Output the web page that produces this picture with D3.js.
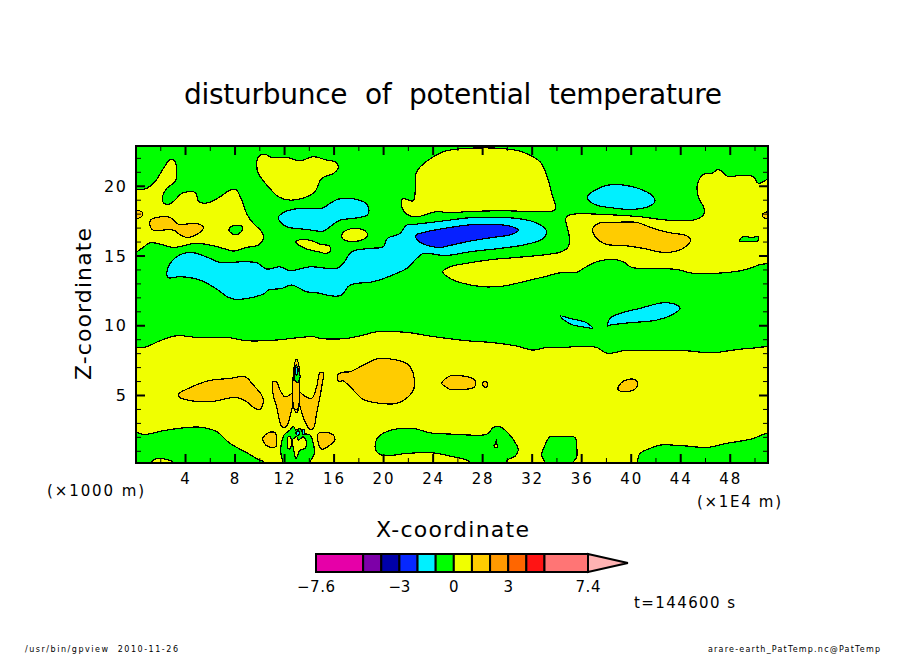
<!DOCTYPE html>
<html>
<head>
<meta charset="utf-8">
<script src="https://cdn.jsdelivr.net/npm/d3@7"></script>
<style>
    html, body { margin: 0; padding: 0; background: #fff; }
    text { font-family: "DejaVu Sans", sans-serif; fill: #000; }
</style>
</head>
<body>
<svg id="chart" width="904" height="654"></svg>
<script>
// Axis ticks
var xMajor = [4, 8, 12, 16, 20, 24, 28, 32, 36, 40, 44, 48];
var xMinor = [2, 6, 10, 14, 18, 22, 26, 30, 34, 38, 42, 46, 50];
var zMajor = [5, 10, 15, 20];
var zMinor = [1, 2, 3, 4, 6, 7, 8, 9, 11, 12, 13, 14, 16, 17, 18, 19, 21, 22];

// Colour legend
var legendLevels = [-7.6, -5, -4, -3, -2, -1, 0, 1, 2, 3, 4, 5, 7.4];
var legendColors = ["#e600a8", "#7d00a8", "#0000a8", "#0628ff", "#00f0ff", "#00ff00", "#f0ff00", "#ffcc00", "#ff9900", "#ff6600", "#ff1414", "#ff7575"];
var legendTicks = [-7.6, -3, 0, 3, 7.4];
var legendOver = 9.6;
var overColor = "#ffb3b3";

// Fill colours by contour band
var green = "#00ff00", yellow = "#f0ff00", gold = "#ffcc00", cyan = "#00f0ff", blue = "#0620ff";

// Contours, as [x (x1E4 m), z (x1000 m)]
var yellowBand = [[-0.5,8.17],[0.9,8.46],[1.98,8.89],[3.33,9.25],[4.94,9.13],[7.36,9.13],[8.98,8.89],[11.4,8.94],[13.02,9.1],[14.36,9.18],[14.9,9.06],[17.06,9.06],[18.4,9.3],[19.48,9.53],[21.9,9.49],[23.79,9.22],[25.4,9.03],[26.75,8.89],[28.9,8.75],[30.79,8.51],[32.13,8.22],[33.21,8.41],[34.56,8.41],[35.9,8.48],[37.25,8.41],[37.92,8.05],[38.33,7.98],[39.4,8.17],[42.1,8.17],[44.52,8.17],[45.87,8.05],[46.94,8.05],[48.29,8.22],[49.64,8.34],[51.6,8.22],[51.6,-1],[-0.5,-1]];
var yellowUpperLeft = [[-0.5,19.5],[0.9,19.81],[1.58,20.29],[2.25,21.24],[2.84,21.91],[3.19,21.72],[3.33,20.65],[3.19,20.29],[2.52,19.81],[2.17,19.21],[2.25,18.78],[2.73,18.69],[3.19,18.97],[3.73,19.45],[4.81,19.52],[5.13,18.85],[5.88,18.78],[6.83,19.21],[7.63,19.69],[8.09,19.74],[8.58,18.97],[9.03,17.9],[9.52,17.3],[10.19,16.7],[10.33,16.22],[9.92,15.75],[8.98,15.58],[7.9,15.32],[7.09,15.51],[6.02,15.75],[4.81,15.87],[3.06,15.58],[1.98,15.82],[1.17,15.91],[0.5,15.51],[-0.5,15.03]];
var greenHoleLeft = [[7.55,16.87],[7.9,17.13],[8.58,17.11],[8.66,16.87],[8.23,16.51],[7.77,16.58]];
var goldUpperLeft = [[1.23,17.54],[2.11,17.78],[2.79,17.73],[3.46,17.25],[4.94,17.3],[5.48,17.01],[5.08,16.58],[4.13,16.3],[3.59,16.49],[3.06,16.82],[1.44,16.82],[1.23,17.01]];
var goldEdgeLeft = [[-0.5,18.21],[0.5,18.14],[0.58,17.9],[0.23,17.66],[-0.5,17.59]];
var yellowTopBlob = [[9.79,21.48],[9.92,22.08],[10.46,22.25],[11,22.03],[12.21,22.03],[13.29,21.79],[14.36,22.08],[15.44,21.84],[16.11,21.72],[16.38,21.31],[15.98,20.88],[15.04,20.53],[14.5,19.57],[13.69,19.16],[12.48,18.97],[11.54,19.21],[10.73,19.93],[9.92,20.88]];
var cyanUpper = [[11.54,17.73],[12.08,18.14],[13.29,18.38],[15.04,18.38],[15.71,18.73],[16.38,19.04],[17.87,19.02],[18.67,18.69],[18.86,18.26],[18.73,17.9],[17.6,17.66],[16.52,17.54],[15.71,17.06],[15.17,16.75],[13.83,16.87],[12.21,17.06],[11.67,17.42]];
var yellowOval = [[16.65,16.46],[17.06,16.82],[17.87,16.94],[18.54,16.77],[18.75,16.46],[18.4,16.15],[17.46,16.01],[16.79,16.15]];
var yellowSliver = [[12.94,15.99],[13.56,16.15],[14.23,16.06],[14.9,15.82],[15.66,15.68],[15.77,15.39],[15.44,15.15],[14.77,15.27],[13.69,15.51]];
var cyanBand = [[2.52,13.72],[2.79,14.43],[3.73,15.1],[4.67,15.2],[6.02,14.79],[6.83,14.5],[8.71,14.55],[9.79,14.48],[10.6,14.03],[11.67,14.19],[12.48,13.91],[14.1,14.19],[16.25,14.07],[16.79,14.43],[17.46,15.27],[18.94,15.51],[20.02,15.63],[20.34,16.22],[21.36,16.58],[21.9,17.18],[22.71,17.25],[24.33,17.42],[25.4,17.54],[27.02,17.71],[28.9,17.73],[30.79,17.66],[32.13,17.42],[33.08,16.94],[33.21,16.58],[32.81,16.15],[31.33,15.75],[29.44,15.51],[27.02,15.27],[25.4,15.03],[24.6,15.03],[23.25,15.15],[22.71,14.79],[21.9,14.07],[21.1,13.72],[19.21,13.12],[17.33,12.88],[16.65,12.16],[15.98,12.09],[14.63,12.33],[13.83,12.4],[12.61,12.88],[11.81,12.64],[10.73,12.52],[10.33,12.23],[8.17,11.85],[7.5,12],[6.56,12.59],[5.21,13.24],[3.59,13.48],[2.65,13.41]];
var blueCore = [[22.66,16.46],[23.25,16.65],[25.4,17.01],[27.02,17.2],[28.9,17.23],[30.25,17.11],[30.92,16.82],[30.39,16.51],[28.9,16.3],[27.02,16.03],[25.4,15.72],[24.6,15.58],[23.25,15.82],[22.71,16.15]];
var yellowTopCenter = [[21.5,18.97],[21.63,19.09],[22.44,18.92],[22.71,21],[23.65,21.84],[24.87,22.44],[25.4,22.56],[26.75,22.68],[29.44,22.68],[31.19,22.44],[32.67,21.72],[33.21,20.76],[33.62,19.45],[33.94,18.38],[33.75,18.21],[29.44,18.21],[26.75,18.14],[25.4,18.06],[24.33,18.14],[22.71,17.78],[21.9,17.97],[21.5,18.49]];
var yellowRight = [[24.81,13.84],[25.4,14.19],[27.02,14.48],[28.9,14.72],[30.79,14.86],[33.48,15.1],[34.42,15.27],[34.96,15.63],[35.04,16.34],[34.83,17.18],[34.75,17.66],[35.1,17.92],[38.33,17.92],[40.75,17.78],[42.91,17.54],[45.06,17.54],[45.87,17.9],[45.92,18.38],[45.46,19.21],[45.38,20.05],[45.87,20.81],[46.54,20.88],[47.08,21.17],[47.89,20.65],[48.83,20.76],[49.91,20.65],[50.31,20.17],[51.6,20.6],[51.6,14.72],[50.31,14.31],[49.1,13.95],[47.48,13.76],[45.06,13.72],[43.71,14],[42.1,14.07],[40.08,14.15],[39.4,14.55],[38.6,14.72],[37.25,14.55],[36.17,14.07],[35.64,13.79],[34.29,13.76],[33.21,13.52],[31.33,13.12],[29.71,12.81],[28.1,12.76],[26.48,13],[25.4,13.36]];
var goldEdgeRight = [[51.6,18.18],[50.71,18.02],[50.63,17.83],[50.85,17.68],[51.6,17.68]];
var greenHoleRight = [[48.77,16.03],[49.04,16.34],[49.77,16.3],[50.31,16.34],[50.31,16.06],[49.77,15.99],[49.1,15.99]];
var goldRight = [[36.93,16.94],[37.39,17.3],[38.6,17.37],[40.48,17.37],[41.83,16.94],[43.17,16.63],[44.52,16.42],[44.84,16.11],[44.52,15.68],[43.71,15.32],[42.64,15.22],[41.02,15.51],[39.41,15.72],[38.06,15.79],[37.39,16.11],[36.98,16.58]];
var cyanUpperRight = [[36.5,19.21],[37.12,19.69],[38.19,20.05],[39.4,20.05],[40.62,19.81],[41.69,19.33],[41.96,18.92],[41.69,18.61],[40.2,18.3],[38.87,18.38],[37.25,18.61],[36.58,18.97]];
var cyanThin = [[34.34,10.66],[35.1,10.49],[36.44,10.18],[36.93,9.77],[36.44,9.84],[35.37,10.01],[34.69,10.32]];
var cyanLens = [[38.11,9.94],[38.33,10.49],[39.14,10.85],[40.75,11.21],[42.64,11.61],[43.72,11.45],[43.98,11.21],[43.45,10.8],[42.1,10.37],[39.95,10.18],[38.33,10.01]];
var goldLensLeft = [[3.46,5.07],[4.27,5.47],[5.88,6.02],[7.63,6.19],[8.85,6.31],[9.52,5.71],[10.19,4.99],[10.33,4.52],[10.06,3.97],[9.65,4.04],[8.98,4.52],[8.17,4.83],[6.02,4.52],[3.86,4.71],[3.51,4.87]];
var goldLensRight = [[16.31,6.43],[16.65,6.62],[17.33,6.67],[18.4,7.14],[19.62,7.62],[20.83,7.55],[21.9,7.26],[22.39,6.67],[22.49,5.47],[22.04,4.87],[21.1,4.4],[19.75,4.4],[18.4,4.68],[17.46,5.47],[16.79,6],[16.38,6]];
var goldMiddle = [[24.73,5.83],[25.4,6.36],[26.48,6.36],[27.29,6.14],[27.5,5.88],[27.29,5.52],[26.21,5.4],[25.4,5.4],[25.13,5.54]];
var goldDot = [[28.04,5.83],[28.18,5.97],[28.42,5.88],[28.37,5.59],[28.15,5.59]];
var goldFar = [[39,5.35],[39.14,5.78],[39.81,6.12],[40.4,6.07],[40.56,5.78],[40.21,5.35]];
var goldWings = [[11.08,5.95],[11.4,5.95],[11.67,5.35],[12.08,4.87],[12.75,5.23],[12.94,5.54],[13.15,5.35],[13.56,4.99],[14.23,4.76],[14.63,5.59],[14.9,6.59],[15.17,6.59],[15.04,5.59],[14.63,3.68],[14.36,2.6],[14.1,2.53],[13.69,3.08],[13.29,4.16],[13.15,4.52],[13.1,3.8],[12.91,3.8],[12.83,4.64],[12.48,3.44],[12.21,2.77],[11.81,2.72],[11.62,3.2],[11.4,4.16],[11.13,4.99]];
var goldSpike = [[13,7.55],[12.82,7.1],[12.84,4],[13.08,4],[13.2,7.1]];
var greenSpike = [[12.85,6.1],[12.88,6.9],[13,7.15],[13.12,6.9],[13.3,6.3],[13.1,5.9]];
var cyanSpike = [[12.96,6.95],[13.08,6.9],[13.08,6.45],[12.96,6.45]];
var goldSmallLeft = [[10.27,1.89],[10.73,2.29],[11.27,2.29],[11.4,1.77],[11.32,1.29],[10.73,1.29],[10.33,1.65]];
var goldSmallRight = [[14.77,2.25],[15.44,2.32],[15.98,2.13],[16.11,1.82],[15.71,1.41],[15.04,1.12],[14.77,1.53]];
var greenBottomLeft = [[-0.5,2.32],[0.77,2.17],[2.25,2.44],[4.27,2.68],[5.35,2.68],[6.56,2.37],[7.63,1.53],[8.85,0.93],[9.92,0.38],[10.4,0.17],[10.6,-1],[-0.5,-1]];
var yellowBottomLeft = [[1.17,-1],[1.3,0.22],[1.84,0.45],[2.52,0.38],[3.06,0.17],[3.73,-1]];
var greenBottomCenter = [[12,-1],[11.89,0.17],[11.73,0.93],[11.81,1.65],[12,2.13],[12.48,2.49],[12.75,2.77],[12.94,2.49],[13.29,2.6],[13.56,2.25],[14.1,2.13],[14.36,1.53],[14.45,0.81],[14.1,0.17],[14,-1]];
var yellowInCenter = [[12.67,1.77],[13.02,2],[13.15,1.77],[13.56,2],[13.83,1.53],[13.69,1.17],[13.29,1.05],[12.96,0.45],[12.75,1.17],[12.67,1.53]];
var yellowInCenter2 = [[12.32,2],[12.51,2],[12.51,1.17],[12.32,1.17]];
var cyanTangle = [[13,2.4],[13.2,2.4],[13.2,2.15],[13,2.15]];
var cyanTangle2 = [[13.5,2.5],[13.65,2.5],[13.65,2.2],[13.5,2.2]];
var greenBottomMiddle = [[19.35,1.29],[19.62,2],[20.69,2.49],[22.44,2.6],[23.79,2.29],[25.4,2.2],[28.1,2.13],[28.5,2.25],[28.9,2.68],[29.44,2.72],[30.12,2.25],[30.79,1.41],[30.92,1.05],[30.66,0.62],[29.98,0.29],[29.7,-1],[27.2,-1],[27.02,0.17],[25.4,0.62],[23.92,0.86],[21.9,0.81],[20.02,0.65],[19.48,0.93]];
var yellowPinhole = [[28.98,1.3],[29.12,1.2],[29.26,1.3],[29.2,1.45],[29.15,1.82],[29.05,1.45],[29,1.45]];
var greenBottomBox = [[32.81,0.69],[33.08,1.41],[33.48,2],[34.56,2],[35.5,1.96],[35.64,1.29],[35.64,0.57],[35.37,0.17],[35.2,-1],[33.3,-1],[33.08,0.17]];
var greenBottomRight = [[40.56,0.33],[40.75,0.81],[41.56,1.17],[42.37,1.41],[44.26,1.36],[46.14,1.24],[47.75,1.53],[49.64,1.82],[51.6,2.25],[51.6,-1],[40.5,-1]];

// Painted in this order, later bands sit on top of earlier ones
var regions = [
    [yellowBand, yellow], [goldLensLeft, gold], [goldLensRight, gold], [goldMiddle, gold], [goldDot, gold], [goldFar, gold],
    [goldWings, gold], [goldSpike, gold], [greenSpike, green], [cyanSpike, cyan], [goldSmallLeft, gold], [goldSmallRight, gold],
    [greenBottomLeft, green], [yellowBottomLeft, yellow], [greenBottomCenter, green], [yellowInCenter, yellow], [yellowInCenter2, yellow],
    [cyanTangle, cyan], [cyanTangle2, cyan],
    [greenBottomMiddle, green], [yellowPinhole, yellow], [greenBottomBox, green], [greenBottomRight, green],
    [yellowUpperLeft, yellow], [greenHoleLeft, green], [goldUpperLeft, gold], [goldEdgeLeft, gold], [yellowTopBlob, yellow],
    [cyanUpper, cyan], [yellowOval, yellow], [yellowSliver, yellow], [yellowTopCenter, yellow], [cyanBand, cyan], [blueCore, blue],
    [yellowRight, yellow], [goldEdgeRight, gold], [greenHoleRight, green], [goldRight, gold], [cyanUpperRight, cyan], [cyanThin, cyan], [cyanLens, cyan]
];

var svg = d3.select("#chart");
var xScale = d3.scaleLinear().domain([0.04, 51.09]).range([136, 768]);
var zScale = d3.scaleLinear().domain([0.125, 22.85]).range([463, 146]);
var legendScale = d3.scaleLinear().domain([-7.6, 7.4]).range([316, 588]);

// Text helper, the original stroke font is wide so the widths are forced
function label(parent, x, y, str, size, width, anchor) {
    var t = parent.append("text").attr("x", x).attr("y", y).attr("font-size", size)
        .attr("text-anchor", anchor || "start").text(str);
    if (width) t.attr("textLength", width).attr("lengthAdjust", "spacing");
    return t;
}

// Contour fills
svg.append("defs").append("clipPath").attr("id", "plot").append("rect")
    .attr("x", 136).attr("y", 146).attr("width", 632).attr("height", 317);
var field = svg.append("g").attr("clip-path", "url(#plot)");
field.append("rect").attr("x", 136).attr("y", 146).attr("width", 632).attr("height", 317).attr("fill", green);
var contour = d3.line().x(d => xScale(d[0])).y(d => zScale(d[1])).curve(d3.curveCatmullRomClosed.alpha(0.5));
regions.forEach(function(region) {
    field.append("path").attr("d", contour(region[0])).attr("fill", region[1])
        .attr("stroke", "#000").attr("stroke-width", 1.2).attr("shape-rendering", "crispEdges");
});

// Inward ticks on all four sides
function ticks(axis, values, size, width, transform) {
    var g = svg.append("g").attr("transform", transform)
        .call(axis.tickValues(values).tickSize(size).tickFormat(""));
    g.select(".domain").remove();
    g.selectAll("line").attr("stroke", "#000").attr("stroke-width", width);
}
ticks(d3.axisBottom(xScale), xMajor, -9, 2, "translate(0,463)");
ticks(d3.axisBottom(xScale), xMinor, -5, 1, "translate(0,463)");
ticks(d3.axisTop(xScale), xMajor, -9, 2, "translate(0,146)");
ticks(d3.axisTop(xScale), xMinor, -5, 1, "translate(0,146)");
ticks(d3.axisLeft(zScale), zMajor, -9, 2, "translate(136,0)");
ticks(d3.axisLeft(zScale), zMinor, -5, 1, "translate(136,0)");
ticks(d3.axisRight(zScale), zMajor, -9, 2, "translate(768,0)");
ticks(d3.axisRight(zScale), zMinor, -5, 1, "translate(768,0)");
svg.append("rect").attr("x", 136).attr("y", 146).attr("width", 632).attr("height", 317)
    .attr("fill", "none").attr("stroke", "#000").attr("stroke-width", 2);

// Tick labels
xMajor.forEach(function(v) {
    label(svg, xScale(v), 484, String(v), 15, v < 10 ? 0 : 21, "middle");
});
zMajor.forEach(function(v) {
    label(svg, 126, zScale(v) + 6, String(v), 16, v < 10 ? 0 : 22, "end");
});

// Titles and notes
label(svg, 184, 104, "disturbunce of potential temperature", 28, 538).attr("word-spacing", 9);
label(svg, 376, 537, "X-coordinate", 22, 153);
label(svg, 0, 0, "Z-coordinate", 22, 152).attr("transform", "translate(91,380) rotate(-90)");
label(svg, 47, 496, "(×1000 m)", 15, 97);
label(svg, 697, 507, "(×1E4 m)", 15, 84);
label(svg, 634, 608, "t=144600 s", 15, 101);
label(svg, 25, 652, "/usr/bin/gpview  2010-11-26", 8, 153).attr("xml:space", "preserve");
label(svg, 708, 652, "arare-earth_PatTemp.nc@PatTemp", 8, 172);

// Colour bar
var legend = svg.append("g");
legendColors.forEach(function(c, i) {
    legend.append("rect").attr("x", legendScale(legendLevels[i])).attr("y", 554)
        .attr("width", legendScale(legendLevels[i + 1]) - legendScale(legendLevels[i])).attr("height", 18)
        .attr("fill", c).attr("stroke", "#000").attr("stroke-width", 2);
});
legend.append("path")
    .attr("d", d3.line()([[legendScale(7.4), 554], [legendScale(legendOver), 563], [legendScale(7.4), 572]]) + "Z")
    .attr("fill", overColor).attr("stroke", "#000").attr("stroke-width", 2);
legendTicks.forEach(function(v) {
    var s = String(v).replace("-", "\u2212");
    label(legend, legendScale(v), 592, s, 15, [0, 0, 22, 25, 38][s.length], "middle");
});
</script>
</body>
</html>
